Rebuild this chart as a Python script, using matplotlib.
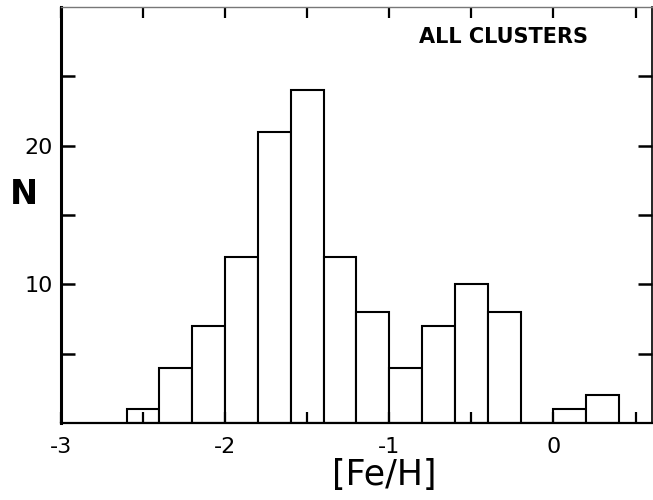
import matplotlib
matplotlib.use("Agg")
import matplotlib.pyplot as plt
import numpy as np

# metallicity histogram, 0.2 dex bins
bin_edges = [-2.6, -2.4, -2.2, -2.0, -1.8, -1.6, -1.4, -1.2, -1.0,
             -0.8, -0.6, -0.4, -0.2, 0.0, 0.2, 0.4]
counts = [1, 4, 7, 12, 21, 24, 12, 8, 4, 7, 10, 8, 0, 1, 2]

x_ticks = [-3, -2.5, -2, -1.5, -1, -0.5, 0, 0.5]
x_ticklabels = ["-3", "", "-2", "", "-1", "", "0", ""]
y_ticks = [5, 10, 15, 20, 25]
y_ticklabels = ["", "10", "", "20", ""]

plt.rcParams['font.family'] = ['DejaVu Sans']

fig = plt.figure(figsize=(6.53, 5.0), dpi=100)
ax = fig.add_axes([0.0934, 0.154, 0.905, 0.832])

edges = np.array(bin_edges)
ax.bar(edges[:-1], counts, width=np.diff(edges), align='edge',
       facecolor='white', edgecolor='black', linewidth=1.5)

ax.set_xlim(-3, 0.6)
ax.set_ylim(0, 30)
ax.set_xticks(x_ticks)
ax.set_xticklabels(x_ticklabels, fontsize=16)
ax.set_yticks(y_ticks)
ax.set_yticklabels(y_ticklabels, fontsize=16)
ax.tick_params(axis='x', direction='in', length=8, width=1.6,
               top=True, pad=10)
ax.tick_params(axis='y', direction='in', length=10, width=1.8,
               right=True, pad=6)

ax.spines['left'].set_linewidth(2.2)
ax.spines['bottom'].set_linewidth(1.6)
ax.spines['right'].set_linewidth(1.2)
ax.spines['top'].set_linewidth(1.0)
ax.spines['top'].set_color('#777777')

ax.set_xlabel('[Fe/H]', fontsize=25)
ax.xaxis.set_label_coords(0.547, -0.085)
ax.set_ylabel('N', fontsize=24, fontweight='bold', rotation=0)
ax.yaxis.set_label_coords(-0.062, 0.51)

ax.text(0.891, 0.928, 'ALL CLUSTERS', transform=ax.transAxes,
        fontsize=15, fontweight='bold', ha='right', va='center')

fig.savefig('out.png', dpi=100)
